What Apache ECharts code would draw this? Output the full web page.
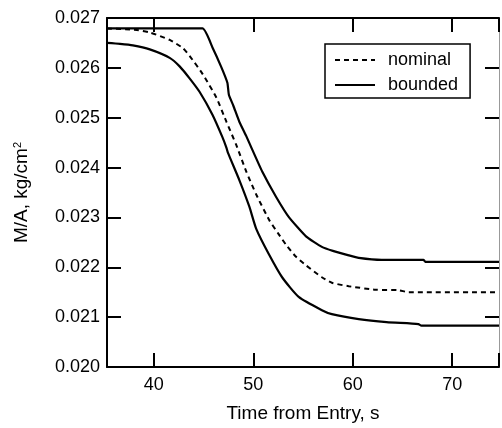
<!DOCTYPE html>
<html>
<head>
<meta charset="utf-8">
<script src="https://cdn.jsdelivr.net/npm/echarts@6/dist/echarts.min.js"></script>
<style>
  html, body { margin: 0; padding: 0; background: #fff; }
  #chart { width: 502px; height: 428px; }
</style>
</head>
<body>
<div id="chart"></div>
<script>
// time from entry (s), M/A (kg/cm^2)
var nominal = [
  [35.3, 0.02679], [38.3, 0.02676], [39.6, 0.02671], [41.6, 0.02656], [42.9, 0.02640],
  [43.6, 0.02624], [44.9, 0.02588], [46.3, 0.02540], [47.3, 0.02492], [48.3, 0.02445],
  [49.3, 0.02392], [50.3, 0.02346], [51.6, 0.02295], [52.5, 0.02268], [53.3, 0.02245],
  [54.3, 0.02221], [55.3, 0.02204], [56.9, 0.02180], [57.9, 0.02169], [59.6, 0.02162],
  [62.3, 0.02155], [64.6, 0.02154], [65.6, 0.02150], [74.7, 0.02150]
];
var boundHigh = [
  [35.3, 0.02679], [44.9, 0.02679], [45.9, 0.02641], [46.8, 0.02601], [47.4, 0.02570],
  [47.55, 0.02546], [48.0, 0.02524], [48.6, 0.02492], [49.3, 0.02463], [49.9, 0.02436],
  [50.9, 0.02392], [52.3, 0.02341], [53.6, 0.02300], [55.3, 0.02262], [56.9, 0.02241],
  [58.0, 0.02233], [59.6, 0.02224], [60.6, 0.02219], [62.9, 0.02215], [67.1, 0.02215],
  [67.3, 0.02211], [74.7, 0.02211]
];
var boundLow = [
  [35.3, 0.02650], [36.6, 0.02648], [37.9, 0.02645], [39.6, 0.02637], [41.6, 0.02620],
  [42.6, 0.02603], [43.6, 0.02579], [44.6, 0.02552], [45.9, 0.02506], [46.9, 0.02461],
  [47.3, 0.02440], [47.45, 0.02430], [48.6, 0.02375], [49.6, 0.02322], [50.3, 0.02277],
  [51.6, 0.02225], [52.9, 0.02180], [54.6, 0.02140], [56.9, 0.02114], [57.9, 0.02106],
  [60.6, 0.02096], [63.4, 0.02090], [66.6, 0.02086], [66.9, 0.02083], [74.7, 0.02083]
];
var xTicks = [40, 50, 60, 70];

var font = 'Liberation Sans';
var myChart = echarts.init(document.getElementById('chart'));

var frameLine = { show: true, lineStyle: { color: '#000', width: 2 } };
var innerTick = { show: true, inside: true, length: 14, lineStyle: { color: '#000', width: 2 } };

var option = {
    backgroundColor: '#fff',
    animation: false,
    textStyle: { fontFamily: font, color: '#000' },
    grid: { left: 107, right: 1, top: 18, bottom: 55 },
    legend: {
        orient: 'vertical',
        left: 325,
        top: 44,
        data: ['nominal', 'bounded'],
        itemWidth: 40,
        itemHeight: 14,
        itemGap: 5,
        padding: [6, 12, 3, 9],
        borderColor: '#000',
        borderWidth: 1.5,
        itemStyle: { opacity: 0 },
        textStyle: { fontFamily: font, fontSize: 18, color: '#000', lineHeight: 20, padding: [0, 0, 0, 8] }
    },
    xAxis: [
        {
            type: 'value',
            min: 35.3,
            max: 74.7,
            splitNumber: 4,
            name: 'Time from Entry, s',
            nameLocation: 'middle',
            nameGap: 37,
            nameTextStyle: { fontFamily: font, fontSize: 19, color: '#000' },
            axisLine: frameLine,
            axisTick: innerTick,
            splitLine: { show: false },
            axisLabel: {
                fontFamily: font, fontSize: 18, color: '#000', margin: 9,
                formatter: function (v) { return xTicks.indexOf(v) >= 0 ? String(v) : ''; }
            }
        },
        {
            type: 'value',
            position: 'top',
            min: 35.3,
            max: 74.7,
            splitNumber: 4,
            axisLine: frameLine,
            axisTick: innerTick,
            splitLine: { show: false },
            axisLabel: { show: false }
        }
    ],
    yAxis: [
        {
            type: 'value',
            min: 0.020,
            max: 0.027,
            interval: 0.001,
            name: 'M/A, kg/cm{sup|2}',
            nameLocation: 'middle',
            nameGap: 76,
            nameTextStyle: {
                fontFamily: font, fontSize: 19, color: '#000',
                rich: { sup: { fontFamily: font, fontSize: 11, color: '#000', verticalAlign: 'top' } }
            },
            axisLine: frameLine,
            axisTick: innerTick,
            splitLine: { show: false },
            axisLabel: {
                fontFamily: font, fontSize: 18, color: '#000', margin: 7,
                formatter: function (v) { return v.toFixed(3); }
            }
        },
        {
            type: 'value',
            position: 'right',
            min: 0.020,
            max: 0.027,
            interval: 0.001,
            axisLine: { show: true, lineStyle: { color: '#999', width: 1 } },
            axisTick: innerTick,
            splitLine: { show: false },
            axisLabel: { show: false }
        }
    ],
    series: [
        {
            name: 'nominal',
            type: 'line',
            data: nominal,
            showSymbol: false,
            symbol: 'none',
            smooth: 0.2,
            silent: true,
            lineStyle: { color: '#000', width: 2, type: [5, 4] },
            itemStyle: { color: '#000' }
        },
        {
            name: 'bounded',
            type: 'line',
            data: boundHigh,
            showSymbol: false,
            symbol: 'none',
            smooth: 0.15,
            silent: true,
            lineStyle: { color: '#000', width: 2.2 },
            itemStyle: { color: '#000' }
        },
        {
            name: 'bounded',
            type: 'line',
            data: boundLow,
            showSymbol: false,
            symbol: 'none',
            smooth: 0.2,
            silent: true,
            lineStyle: { color: '#000', width: 2.2 },
            itemStyle: { color: '#000' }
        }
    ]
};
myChart.setOption(option);
</script>
</body>
</html>
